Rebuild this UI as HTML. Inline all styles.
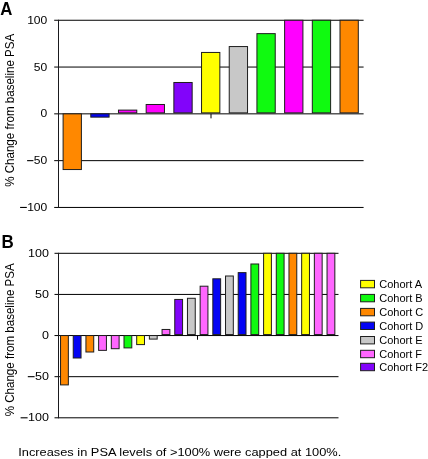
<!DOCTYPE html>
<html><head><meta charset="utf-8"><style>
html,body{margin:0;padding:0;background:#fff;width:428px;height:459px;overflow:hidden}
svg{display:block;filter:blur(0.35px);font-family:"Liberation Sans",sans-serif;fill:#000}
</style></head><body>
<svg width="428" height="459" viewBox="0 0 428 459">
<rect width="428" height="459" fill="#fff"/>
<line x1="54.2" y1="20.25" x2="363.6" y2="20.25" stroke="#000" stroke-width="1"/>
<line x1="54.2" y1="67.05" x2="363.6" y2="67.05" stroke="#000" stroke-width="1"/>
<line x1="54.2" y1="113.85" x2="363.6" y2="113.85" stroke="#000" stroke-width="1"/>
<line x1="54.2" y1="160.65" x2="363.6" y2="160.65" stroke="#000" stroke-width="1"/>
<line x1="54.2" y1="207.45" x2="363.6" y2="207.45" stroke="#000" stroke-width="1"/>
<rect x="63.1" y="113.85" width="18.3" height="55.69" fill="#FF8800" stroke="#1e1e1e" stroke-width="1"/>
<rect x="90.79" y="113.85" width="18.3" height="3.28" fill="#0404F4" stroke="#1e1e1e" stroke-width="1"/>
<rect x="118.48" y="110.11" width="18.3" height="2.74" fill="#FF00FF" stroke="#1e1e1e" stroke-width="1"/>
<rect x="146.17" y="104.49" width="18.3" height="8.36" fill="#FF00FF" stroke="#1e1e1e" stroke-width="1"/>
<rect x="173.86" y="82.49" width="18.3" height="30.36" fill="#8204FA" stroke="#1e1e1e" stroke-width="1"/>
<rect x="201.55" y="52.45" width="18.3" height="60.4" fill="#FFFF00" stroke="#1e1e1e" stroke-width="1"/>
<rect x="229.24" y="46.55" width="18.3" height="66.3" fill="#C8C8C8" stroke="#1e1e1e" stroke-width="1"/>
<rect x="256.93" y="33.63" width="18.3" height="79.22" fill="#10FA10" stroke="#1e1e1e" stroke-width="1"/>
<rect x="284.62" y="20.25" width="18.3" height="92.6" fill="#FF00FF" stroke="#1e1e1e" stroke-width="1"/>
<rect x="312.31" y="20.25" width="18.3" height="92.6" fill="#10FA10" stroke="#1e1e1e" stroke-width="1"/>
<rect x="340" y="20.25" width="18.3" height="92.6" fill="#FF8800" stroke="#1e1e1e" stroke-width="1"/>
<line x1="58.5" y1="19.75" x2="58.5" y2="207.95" stroke="#1a1a1e" stroke-width="1"/>
<line x1="211" y1="113.85" x2="211" y2="118.35" stroke="#000" stroke-width="1"/>
<text transform="translate(47.3,23.85) scale(1.05,1)" font-size="11.5" text-anchor="end" font-weight="400" >100</text>
<text transform="translate(47.3,70.65) scale(1.05,1)" font-size="11.5" text-anchor="end" font-weight="400" >50</text>
<text transform="translate(47.3,117.45) scale(1.05,1)" font-size="11.5" text-anchor="end" font-weight="400" >0</text>
<text transform="translate(47.3,164.25) scale(1.05,1)" font-size="11.5" text-anchor="end" font-weight="400" >50</text>
<rect x="27.1" y="160.1" width="6.3" height="1.1" fill="#000"/>
<text transform="translate(47.3,211.05) scale(1.05,1)" font-size="11.5" text-anchor="end" font-weight="400" >100</text>
<rect x="20.1" y="206.9" width="6.7" height="1.1" fill="#000"/>
<text transform="translate(0.3,14.8) scale(1,1.05)" font-size="16.8" font-weight="700">A</text>
<text transform="translate(14.4,186.8) rotate(-90) scale(0.957,1)" font-size="12.1">% Change from baseline PSA</text>
<line x1="54.5" y1="253.3" x2="338.5" y2="253.3" stroke="#000" stroke-width="1"/>
<line x1="54.5" y1="294.43" x2="338.5" y2="294.43" stroke="#000" stroke-width="1"/>
<line x1="54.5" y1="335.55" x2="338.5" y2="335.55" stroke="#000" stroke-width="1"/>
<line x1="54.5" y1="376.68" x2="338.5" y2="376.68" stroke="#000" stroke-width="1"/>
<line x1="54.5" y1="417.8" x2="338.5" y2="417.8" stroke="#000" stroke-width="1"/>
<rect x="60.55" y="335.55" width="7.8" height="49.35" fill="#FF8800" stroke="#1e1e1e" stroke-width="1"/>
<rect x="73.24" y="335.55" width="7.8" height="22.45" fill="#0404F4" stroke="#1e1e1e" stroke-width="1"/>
<rect x="85.93" y="335.55" width="7.8" height="16.45" fill="#FF8800" stroke="#1e1e1e" stroke-width="1"/>
<rect x="98.62" y="335.55" width="7.8" height="14.81" fill="#FF66FF" stroke="#1e1e1e" stroke-width="1"/>
<rect x="111.31" y="335.55" width="7.8" height="13.16" fill="#FF66FF" stroke="#1e1e1e" stroke-width="1"/>
<rect x="124" y="335.55" width="7.8" height="12.34" fill="#10FA10" stroke="#1e1e1e" stroke-width="1"/>
<rect x="136.69" y="335.55" width="7.8" height="9.05" fill="#FFFF00" stroke="#1e1e1e" stroke-width="1"/>
<rect x="149.38" y="335.55" width="7.8" height="3.54" fill="#C8C8C8" stroke="#1e1e1e" stroke-width="1"/>
<rect x="162.07" y="329.46" width="7.8" height="5.09" fill="#FF66FF" stroke="#1e1e1e" stroke-width="1"/>
<rect x="174.76" y="299.44" width="7.8" height="35.11" fill="#8204FA" stroke="#1e1e1e" stroke-width="1"/>
<rect x="187.45" y="298.29" width="7.8" height="36.26" fill="#C8C8C8" stroke="#1e1e1e" stroke-width="1"/>
<rect x="200.14" y="286.2" width="7.8" height="48.35" fill="#FF66FF" stroke="#1e1e1e" stroke-width="1"/>
<rect x="212.83" y="278.8" width="7.8" height="55.75" fill="#0404F4" stroke="#1e1e1e" stroke-width="1"/>
<rect x="225.52" y="276" width="7.8" height="58.55" fill="#C8C8C8" stroke="#1e1e1e" stroke-width="1"/>
<rect x="238.21" y="272.63" width="7.8" height="61.92" fill="#0404F4" stroke="#1e1e1e" stroke-width="1"/>
<rect x="250.9" y="263.99" width="7.8" height="70.56" fill="#10FA10" stroke="#1e1e1e" stroke-width="1"/>
<rect x="263.59" y="253.3" width="7.8" height="81.25" fill="#FFFF00" stroke="#1e1e1e" stroke-width="1"/>
<rect x="276.28" y="253.3" width="7.8" height="81.25" fill="#10FA10" stroke="#1e1e1e" stroke-width="1"/>
<rect x="288.97" y="253.3" width="7.8" height="81.25" fill="#FF8800" stroke="#1e1e1e" stroke-width="1"/>
<rect x="301.66" y="253.3" width="7.8" height="81.25" fill="#FFFF00" stroke="#1e1e1e" stroke-width="1"/>
<rect x="314.35" y="253.3" width="7.8" height="81.25" fill="#FF66FF" stroke="#1e1e1e" stroke-width="1"/>
<rect x="327.04" y="253.3" width="7.8" height="81.25" fill="#FF66FF" stroke="#1e1e1e" stroke-width="1"/>
<line x1="58.5" y1="252.8" x2="58.5" y2="418.3" stroke="#1a1a1e" stroke-width="1"/>
<line x1="197.5" y1="335.55" x2="197.5" y2="339.75" stroke="#000" stroke-width="1"/>
<text transform="translate(49,256.7) scale(1.09,1)" font-size="11.5" text-anchor="end" font-weight="400" >100</text>
<text transform="translate(49,297.82) scale(1.09,1)" font-size="11.5" text-anchor="end" font-weight="400" >50</text>
<text transform="translate(49,338.95) scale(1.09,1)" font-size="11.5" text-anchor="end" font-weight="400" >0</text>
<text transform="translate(49,380.07) scale(1.09,1)" font-size="11.5" text-anchor="end" font-weight="400" >50</text>
<rect x="27.8" y="376.12" width="6.8" height="1.1" fill="#000"/>
<text transform="translate(49,421.2) scale(1.09,1)" font-size="11.5" text-anchor="end" font-weight="400" >100</text>
<rect x="20.6" y="417.25" width="7" height="1.1" fill="#000"/>
<text transform="translate(1.6,247.7) scale(1.01,1.05)" font-size="16.8" font-weight="700">B</text>
<text transform="translate(14.4,416.3) rotate(-90) scale(0.957,1)" font-size="12.1">% Change from baseline PSA</text>
<rect x="360.6" y="280.4" width="13.9" height="7.4" fill="#FFFF00" stroke="#1e1e1e" stroke-width="1"/>
<text x="379.3" y="288.3" font-size="11" text-anchor="start" font-weight="400" >Cohort A</text>
<rect x="360.6" y="294.4" width="13.9" height="7.4" fill="#10FA10" stroke="#1e1e1e" stroke-width="1"/>
<text x="379.3" y="302.2" font-size="11" text-anchor="start" font-weight="400" >Cohort B</text>
<rect x="360.6" y="308.4" width="13.9" height="7.4" fill="#FF8800" stroke="#1e1e1e" stroke-width="1"/>
<text x="379.3" y="316.2" font-size="11" text-anchor="start" font-weight="400" >Cohort C</text>
<rect x="360.6" y="322.1" width="13.9" height="7.4" fill="#0404F4" stroke="#1e1e1e" stroke-width="1"/>
<text x="379.3" y="329.8" font-size="11" text-anchor="start" font-weight="400" >Cohort D</text>
<rect x="360.6" y="336.5" width="13.9" height="7.4" fill="#C8C8C8" stroke="#1e1e1e" stroke-width="1"/>
<text x="379.3" y="344.1" font-size="11" text-anchor="start" font-weight="400" >Cohort E</text>
<rect x="360.6" y="350.3" width="13.9" height="7.4" fill="#FF66FF" stroke="#1e1e1e" stroke-width="1"/>
<text x="379.3" y="357.9" font-size="11" text-anchor="start" font-weight="400" >Cohort F</text>
<rect x="360.6" y="363.3" width="13.9" height="7.4" fill="#8204FA" stroke="#1e1e1e" stroke-width="1"/>
<text x="379.3" y="370.9" font-size="11" text-anchor="start" font-weight="400" >Cohort F2</text>
<text transform="translate(18.2,455.8) scale(1.096,1)" font-size="11.7" text-anchor="start" font-weight="400" >Increases in PSA levels of &gt;100% were capped at 100%.</text>
</svg>
</body></html>
